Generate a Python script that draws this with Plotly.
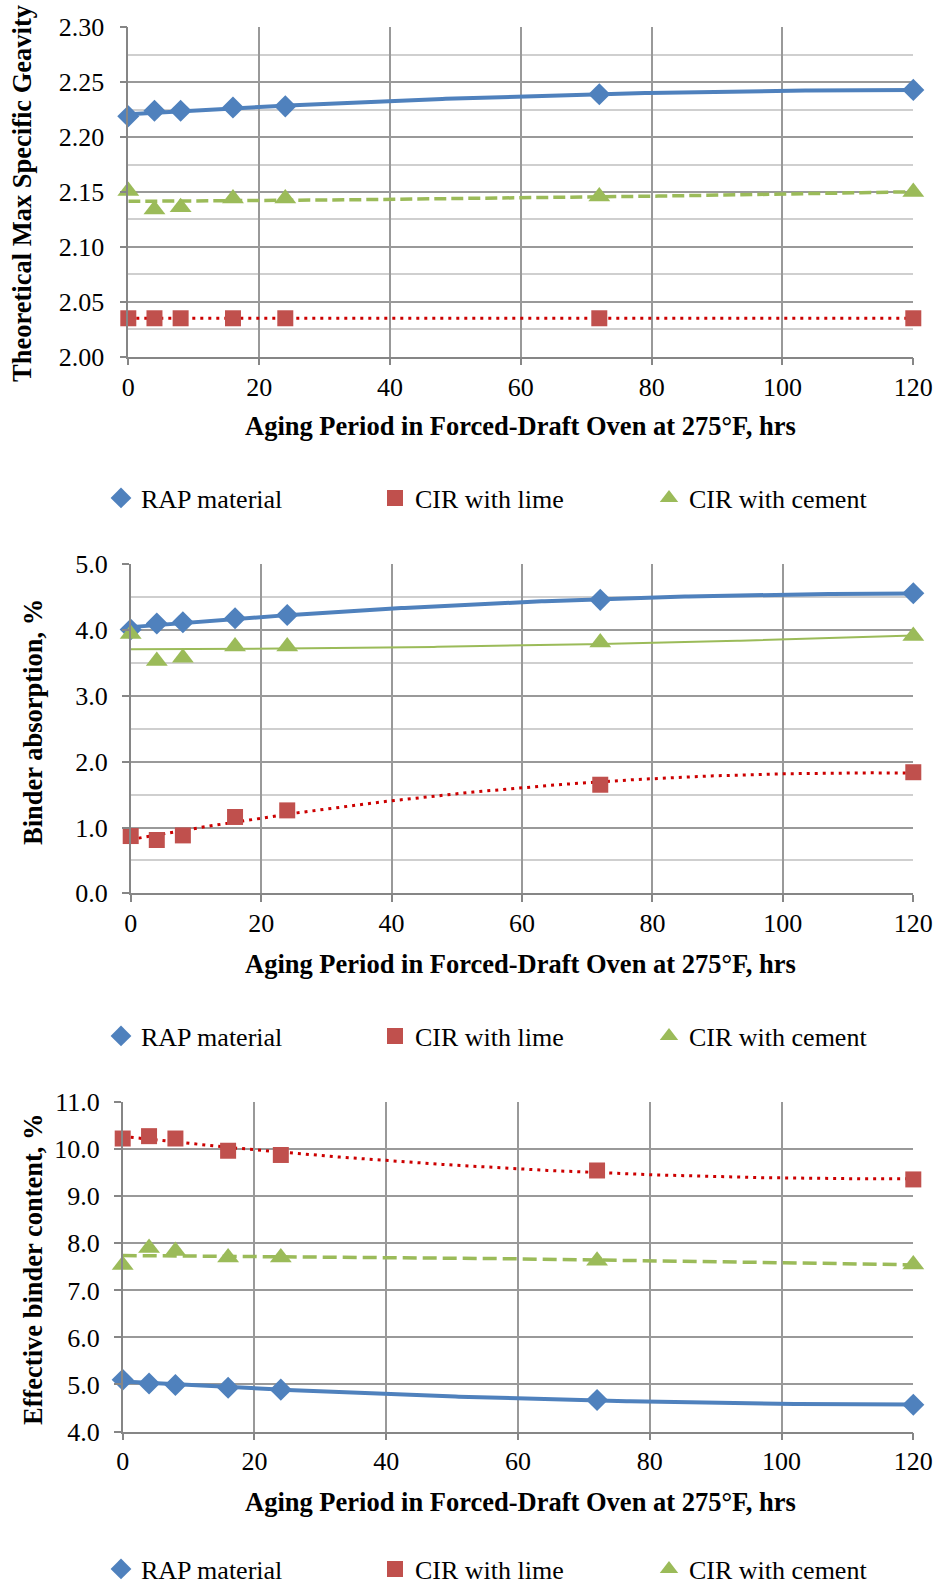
import numpy as np
import plotly.graph_objects as go

# ---------------- data ----------------
hours = [0, 4, 8, 16, 24, 72, 120]
series_names = ["RAP material", "CIR with lime", "CIR with cement"]

gmm_rap = [2.219, 2.224, 2.224, 2.227, 2.228, 2.239, 2.243]
gmm_lime = [2.035, 2.035, 2.035, 2.035, 2.035, 2.035, 2.035]
gmm_cement = [2.151, 2.134, 2.136, 2.144, 2.144, 2.146, 2.150]

abs_rap = [4.01, 4.10, 4.12, 4.18, 4.23, 4.46, 4.56]
abs_lime = [0.87, 0.81, 0.88, 1.16, 1.26, 1.65, 1.84]
abs_cement = [3.94, 3.53, 3.58, 3.75, 3.75, 3.81, 3.91]

pbe_rap = [5.10, 5.02, 4.99, 4.93, 4.89, 4.67, 4.57]
pbe_lime = [10.23, 10.28, 10.23, 9.97, 9.88, 9.55, 9.36]
pbe_cement = [7.54, 7.90, 7.84, 7.70, 7.70, 7.63, 7.55]

x_title = "Aging Period in Forced-Draft Oven at 275°F, hrs"
y_titles = ["Theoretical Max Specific Geavity", "Binder absorption, %", "Effective binder content, %"]

# ---------------- styling ----------------
W, H = 937, 1587
FONT = "Liberation Serif"
BLUE, RED, GREEN = "#4F81BD", "#C0504D", "#9BBB59"
TREND_RED = "#CC0000"
GRID = "#999999"
MINOR = "#cfcfcf"
AXIS = "#868686"


def px_x(p):
    return p / W


def px_y(p):
    return 1 - p / H


panels = [
    dict(data=(gmm_rap, gmm_lime, gmm_cement), rng=[2.0, 2.3], dtick=0.05, minor=0.025, fmt=".2f",
         left=128.3, top=27.3, bottom=356.7,
         cement_style=dict(dash="12px,5px", width=3.5),
         legend_y=498, xt_y=426, yt=(22, 194), ystand=10),
    dict(data=(abs_rap, abs_lime, abs_cement), rng=[0, 5], dtick=1, minor=0.5, fmt=".1f",
         left=130.7, top=564.3, bottom=893.3,
         cement_style=dict(dash="solid", width=2),
         legend_y=1036, xt_y=964, yt=(33, 722), ystand=9),
    dict(data=(pbe_rap, pbe_lime, pbe_cement), rng=[4, 11], dtick=1, minor=None, fmt=".1f",
         left=122.7, top=1102.3, bottom=1431.5,
         cement_style=dict(dash="14px,6px", width=3.5),
         legend_y=1569, xt_y=1502, yt=(33, 1269), ystand=9),
]
RIGHT = 913.3

fig = go.Figure()
xs_dense = np.linspace(0, 120, 241)
annotations = []
layout = {}

for i, p in enumerate(panels):
    n = "" if i == 0 else str(i + 1)
    xa, ya = "x" + n, "y" + n
    leg = "legend" + n
    rap, lime, cem = p["data"]

    # polynomial trendlines (order 2), computed from the data
    trend_specs = [
        (rap, dict(color=BLUE, width=4, dash="solid")),
        (cem, dict(color=GREEN, **p["cement_style"])),
        (lime, dict(color=TREND_RED, width=3, dash="3px,5px")),
    ]
    for vals, line in trend_specs:
        coef = np.polyfit(hours, vals, 2)
        fig.add_trace(go.Scatter(x=xs_dense, y=np.polyval(coef, xs_dense), mode="lines",
                                 line=line, showlegend=False, hoverinfo="skip",
                                 xaxis=xa, yaxis=ya))

    marker_specs = [
        (series_names[0], rap, dict(symbol="diamond", size=17, color=BLUE)),
        (series_names[1], lime, dict(symbol="square", size=16, color=RED)),
        (series_names[2], cem, dict(symbol="triangle-up", size=19, color=GREEN)),
    ]
    for name, vals, mk in marker_specs:
        fig.add_trace(go.Scatter(x=hours, y=vals, mode="markers", name=name,
                                 marker=dict(line=dict(width=0), **mk),
                                 cliponaxis=False, legend=leg, xaxis=xa, yaxis=ya))

    xaxis = dict(domain=[px_x(p["left"]), px_x(RIGHT)], range=[0, 120], dtick=20, tick0=0,
                 showgrid=True, gridcolor=GRID, gridwidth=1.5, zeroline=False,
                 showline=True, linecolor=AXIS, linewidth=1.5,
                 ticks="outside", ticklen=7, tickwidth=1.5, tickcolor=AXIS,
                 tickfont=dict(family=FONT, size=26, color="black"),
                 ticklabelstandoff=-1, anchor=ya, automargin=False, fixedrange=True)
    yaxis = dict(domain=[px_y(p["bottom"]), px_y(p["top"])], range=p["rng"], dtick=p["dtick"],
                 tick0=p["rng"][0], tickformat=p["fmt"],
                 showgrid=True, gridcolor=GRID, gridwidth=1.5, zeroline=False,
                 showline=True, linecolor=AXIS, linewidth=1.5,
                 ticks="outside", ticklen=7, tickwidth=1.5, tickcolor=AXIS,
                 tickfont=dict(family=FONT, size=26, color="black"),
                 ticklabelstandoff=p["ystand"], anchor=xa, automargin=False, fixedrange=True)
    if p["minor"]:
        yaxis["minor"] = dict(dtick=p["minor"], tick0=p["rng"][0], showgrid=True,
                              gridcolor=MINOR, gridwidth=1.5, ticks="")
    layout["xaxis" + n] = xaxis
    layout["yaxis" + n] = yaxis
    layout[leg] = dict(orientation="h", x=px_x(101), xanchor="left",
                       y=px_y(p["legend_y"]), yanchor="middle",
                       font=dict(family=FONT, size=26, color="black"),
                       entrywidth=229, entrywidthmode="pixels",
                       bgcolor="rgba(0,0,0,0)", borderwidth=0)

    annotations.append(dict(text="<b>%s</b>" % x_title, x=px_x(520), y=px_y(p["xt_y"]),
                            xref="paper", yref="paper", xanchor="center", yanchor="middle",
                            showarrow=False, font=dict(family=FONT, size=26.5, color="black")))
    annotations.append(dict(text="<b>%s</b>" % y_titles[i], x=px_x(p["yt"][0]), y=px_y(p["yt"][1]),
                            xref="paper", yref="paper", xanchor="center", yanchor="middle",
                            textangle=-90, showarrow=False,
                            font=dict(family=FONT, size=26.5, color="black")))

fig.update_layout(width=W, height=H, margin=dict(l=0, r=0, t=0, b=0, autoexpand=False),
                  paper_bgcolor="white", plot_bgcolor="white",
                  font=dict(family=FONT, color="black"),
                  annotations=annotations, **layout)

fig.write_html("out.html", config={"displayModeBar": False},
               post_script="document.body.style.margin='0';document.body.style.overflow='hidden';")
